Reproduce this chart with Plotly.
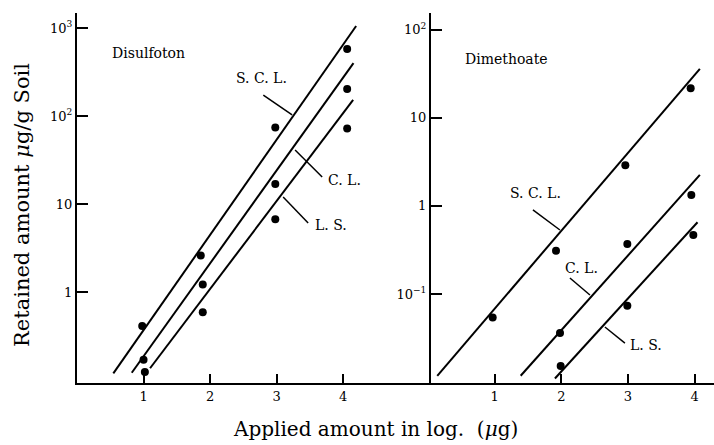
import numpy as np
import plotly.graph_objects as go

# ---------------- data ----------------
# Disulfoton (left panel)
dis_scl_x = [0.98, 1.86, 2.98, 4.06]
dis_scl_y = [0.41, 2.6, 74, 575]
dis_cl_x = [1.00, 1.89, 2.98, 4.06]
dis_cl_y = [0.17, 1.22, 16.9, 202]
dis_ls_x = [1.02, 1.89, 2.98, 4.06]
dis_ls_y = [0.123, 0.59, 6.7, 72]

# fitted lines (end points) Disulfoton
dis_scl_line_x = [0.546, 4.195]
dis_scl_line_y = [0.119, 1054]
dis_cl_line_x = [0.823, 4.155]
dis_cl_line_y = [0.121, 398]
dis_ls_line_x = [1.098, 4.15]
dis_ls_line_y = [0.136, 152]

# Dimethoate (right panel)
dim_scl_x = [0.97, 1.92, 2.96, 3.94]
dim_scl_y = [0.054, 0.31, 2.9, 21.7]
dim_cl_x = [1.98, 2.99, 3.95]
dim_cl_y = [0.036, 0.37, 1.33]
dim_ls_x = [1.99, 2.99, 3.98]
dim_ls_y = [0.0152, 0.0736, 0.468]

dim_scl_line_x = [0.139, 4.078]
dim_scl_line_y = [0.0118, 36.0]
dim_cl_line_x = [1.39, 4.078]
dim_cl_line_y = [0.0118, 2.25]
dim_ls_line_x = [1.904, 4.043]
dim_ls_line_y = [0.011, 0.653]

x_ticks = [1, 2, 3, 4]
x_tick_labels = ["1", "2", "3", "4"]
left_y_ticks = [1, 10, 100, 1000]
left_y_labels = ["1", "10", "10<sup>2</sup>", "10<sup>3</sup>"]
right_y_ticks = [0.1, 1, 10, 100]
right_y_labels = ["10<sup>−1</sup>", "1", "10", "10<sup>2</sup>"]

# label leader lines: (panel, [x0,x1], [y0,y1])
leaders = [
    ("left", [2.80, 3.233], [173, 102.6]),
    ("left", [3.278, 3.684], [41.1, 20.3]),
    ("left", [3.098, 3.474], [12.0, 6.08]),
    ("right", [1.574, 1.979], [0.90, 0.533]),
    ("right", [2.129, 2.429], [0.152, 0.0974]),
    ("right", [2.654, 2.954], [0.0422, 0.0277]),
]

FONT = "DejaVu Serif"
BLACK = "black"

fig = go.Figure()


def add_series(px, py, lx, ly, xa, ya):
    fig.add_trace(go.Scatter(x=lx, y=ly, mode="lines", xaxis=xa, yaxis=ya,
                             line=dict(color=BLACK, width=2), hoverinfo="skip",
                             showlegend=False))
    fig.add_trace(go.Scatter(x=px, y=py, mode="markers", xaxis=xa, yaxis=ya,
                             marker=dict(color=BLACK, size=8), showlegend=False))


add_series(dis_scl_x, dis_scl_y, dis_scl_line_x, dis_scl_line_y, "x", "y")
add_series(dis_cl_x, dis_cl_y, dis_cl_line_x, dis_cl_line_y, "x", "y")
add_series(dis_ls_x, dis_ls_y, dis_ls_line_x, dis_ls_line_y, "x", "y")
add_series(dim_scl_x, dim_scl_y, dim_scl_line_x, dim_scl_line_y, "x2", "y2")
add_series(dim_cl_x, dim_cl_y, dim_cl_line_x, dim_cl_line_y, "x2", "y2")
add_series(dim_ls_x, dim_ls_y, dim_ls_line_x, dim_ls_line_y, "x2", "y2")

for panel, lx, ly in leaders:
    xa, ya = ("x", "y") if panel == "left" else ("x2", "y2")
    fig.add_trace(go.Scatter(x=lx, y=ly, mode="lines", xaxis=xa, yaxis=ya,
                             line=dict(color=BLACK, width=1.5), hoverinfo="skip",
                             showlegend=False))

W, H = 714, 445
ML, MR, MT, MB = 77, 0, 13, 62
pw = W - ML - MR
ph = H - MT - MB
split = 354 / pw

axis_common = dict(showgrid=False, zeroline=False, showline=True, linecolor=BLACK,
                   linewidth=2, ticks="inside", tickcolor=BLACK, tickwidth=2,
                   automargin=False,
                   tickfont=dict(family=FONT, size=13, color=BLACK))

fig.update_layout(
    width=W, height=H,
    margin=dict(l=ML, r=MR, t=MT, b=MB, autoexpand=False),
    plot_bgcolor="white", paper_bgcolor="white",
    showlegend=False,
    xaxis=dict(domain=[0, split], range=[0, 5.32], tickvals=x_ticks,
               ticktext=x_tick_labels, ticklen=9, anchor="y", **axis_common),
    xaxis2=dict(domain=[split, 1], range=[0.045, 4.29], tickvals=x_ticks,
                ticktext=x_tick_labels, ticklen=9, anchor="y2", **axis_common),
    yaxis=dict(type="log", range=[-1.034, 3.17], tickvals=left_y_ticks,
               ticktext=left_y_labels, ticklen=11, anchor="x", **axis_common),
    yaxis2=dict(type="log", range=[-2.01, 2.19], tickvals=right_y_ticks,
                ticktext=right_y_labels, ticklen=11, anchor="x2", **axis_common),
)

lab_font = dict(family=FONT, size=14, color=BLACK)
annots = [
    dict(text="Disulfoton", x=0.50, y=2.716, xref="x", yref="y", xanchor="left"),
    dict(text="S. C. L.", x=2.78, y=2.43, xref="x", yref="y", xanchor="center"),
    dict(text="C. L.", x=4.015, y=1.273, xref="x", yref="y", xanchor="center"),
    dict(text="L. S.", x=3.82, y=0.761, xref="x", yref="y", xanchor="center"),
    dict(text="Dimethoate", x=0.525, y=1.67, xref="x2", yref="y2", xanchor="left"),
    dict(text="S. C. L.", x=1.619, y=0.148, xref="x2", yref="y2", xanchor="center"),
    dict(text="C. L.", x=2.309, y=-0.705, xref="x2", yref="y2", xanchor="center"),
    dict(text="L. S.", x=3.268, y=-1.58, xref="x2", yref="y2", xanchor="center"),
]
for a in annots:
    fig.add_annotation(showarrow=False, yanchor="middle", font=lab_font, **a)

fig.add_annotation(text="Retained amount <i>μ</i>g/g Soil", textangle=-90,
                   x=(22 - ML) / pw, y=(H - MB - 205) / ph,
                   xref="paper", yref="paper", showarrow=False,
                   xanchor="center", yanchor="middle",
                   font=dict(family=FONT, size=21, color=BLACK))
fig.add_annotation(text="Applied amount in log.  (<i>μ</i>g)",
                   x=(375 - ML) / pw, y=(H - MB - 429) / ph,
                   xref="paper", yref="paper", showarrow=False,
                   xanchor="center", yanchor="middle",
                   font=dict(family=FONT, size=20, color=BLACK))

fig.write_html("out.html", config={"displayModeBar": False},
               post_script="document.body.style.margin='0';")
